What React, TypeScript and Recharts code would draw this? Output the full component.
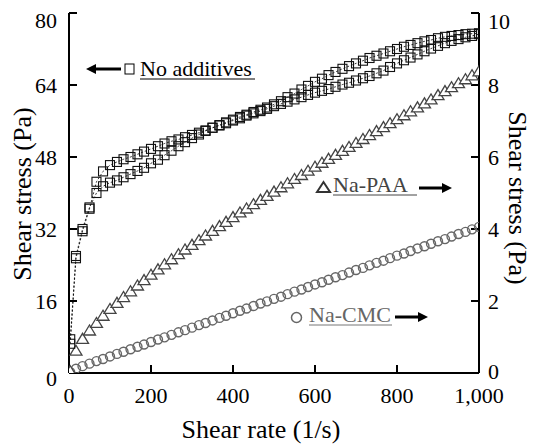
import React from "react";
import { LineChart, Line, XAxis, YAxis } from "recharts";

// shear rate steps (1/s), shared by all sweeps
const shearRate = [
  3, 17, 33, 50, 67, 83, 100, 117, 133, 150,
  167, 183, 200, 217, 233, 250, 267, 283, 300, 317,
  333, 350, 367, 383, 400, 417, 433, 450, 467, 483,
  500, 517, 533, 550, 567, 583, 600, 617, 633, 650,
  667, 683, 700, 717, 733, 750, 767, 783, 800, 817,
  833, 850, 867, 883, 900, 917, 933, 950, 967, 983,
  1000,
];

// no additives, left axis (Pa) - two sweeps of the loop
const noAdditivesSweepA = [
  6.5, 25.5, 31.5, 36.5, 42.5, 44.8, 46.2, 46.9, 47.5, 48.0,
  48.6, 49.2, 49.8, 50.4, 51.0, 51.5, 51.9, 52.4, 52.9, 53.4,
  53.9, 54.5, 55.0, 55.5, 56.1, 56.6, 57.2, 57.7, 58.2, 58.7,
  59.3, 59.8, 60.3, 60.8, 61.3, 61.8, 62.3, 62.7, 63.1, 63.6,
  64.1, 64.5, 65.0, 65.5, 66.0, 66.6, 67.2, 68.0, 68.8, 69.5,
  70.1, 70.8, 71.5, 72.1, 72.7, 73.3, 73.8, 74.2, 74.6, 74.9,
  75.3,
];
const noAdditivesSweepB = [
  7.5, 26.0, 32.0, 36.8, 40.0, 41.5, 42.3, 42.8, 43.5, 44.2,
  44.9, 45.6, 46.6, 47.4, 48.4, 49.4, 50.4, 51.3, 52.2, 53.0,
  53.8, 54.5, 55.1, 55.7, 56.3, 56.9, 57.4, 58.0, 58.5, 59.0,
  59.7, 60.4, 61.3, 62.1, 63.0, 63.8, 64.7, 65.4, 66.2, 66.9,
  67.6, 68.2, 68.8, 69.4, 70.0, 70.5, 71.0, 71.5, 72.0, 72.5,
  72.9, 73.3, 73.7, 74.0, 74.4, 74.7, 74.9, 75.1, 75.3, 75.4,
  75.5,
];

// Na-PAA and Na-CMC, right axis (Pa)
const naPaa = [
  0.05, 0.62, 0.95, 1.18, 1.39, 1.59, 1.78, 1.95, 2.11, 2.27,
  2.43, 2.58, 2.73, 2.88, 3.02, 3.16, 3.3, 3.43, 3.56, 3.69,
  3.82, 3.95, 4.08, 4.2, 4.33, 4.46, 4.57, 4.69, 4.81, 4.92,
  5.04, 5.16, 5.27, 5.39, 5.5, 5.62, 5.73, 5.84, 5.95, 6.06,
  6.17, 6.28, 6.39, 6.5, 6.61, 6.72, 6.83, 6.94, 7.05, 7.16,
  7.27, 7.38, 7.49, 7.6, 7.72, 7.83, 7.94, 8.05, 8.16, 8.27,
  8.38,
];
const naCmc = [
  0.02, 0.12, 0.19, 0.26, 0.33, 0.39, 0.46, 0.53, 0.59, 0.66,
  0.73, 0.79, 0.86, 0.93, 0.99, 1.06, 1.13, 1.19, 1.26, 1.33,
  1.39, 1.46, 1.53, 1.59, 1.66, 1.73, 1.79, 1.86, 1.93, 1.99,
  2.06, 2.12, 2.19, 2.26, 2.32, 2.39, 2.46, 2.52, 2.59, 2.66,
  2.72, 2.79, 2.86, 2.92, 2.99, 3.06, 3.12, 3.19, 3.26, 3.32,
  3.39, 3.46, 3.52, 3.59, 3.66, 3.72, 3.79, 3.86, 3.92, 3.99,
  4.06,
];

const xTicks = [0, 200, 400, 600, 800, 1000];
const leftTicks = [0, 16, 32, 48, 64, 80];
const rightTicks = [0, 2, 4, 6, 8, 10];

const toSeries = (ys: number[]) => shearRate.map((x, i) => ({ x, y: ys[i] }));

const FONT = '"Liberation Serif", "Times New Roman", serif';
const TICK_SIZE = 22;
const TITLE_SIZE = 26;
const axisStroke = { stroke: "#000", strokeWidth: 2 };

const Square = (p: any) => (
  <rect
    key={`sq-${p.index}`}
    x={p.cx - 4.5}
    y={p.cy - 4.5}
    width={9}
    height={9}
    fill="none"
    stroke="#111"
    strokeWidth={1.1}
  />
);

const Triangle = (p: any) => (
  <polygon
    key={`tr-${p.index}`}
    points={`${p.cx - 6},${p.cy + 4.5} ${p.cx},${p.cy - 5.5} ${p.cx + 6},${p.cy + 4.5}`}
    fill="#fff"
    stroke="#444"
    strokeWidth={1.3}
  />
);

const Ring = (p: any) => (
  <circle
    key={`ci-${p.index}`}
    cx={p.cx}
    cy={p.cy}
    r={4.5}
    fill="none"
    stroke="#666"
    strokeWidth={1.4}
  />
);

const BottomTick = (p: any) => (
  <text
    x={p.x}
    y={p.y}
    dy="0.71em"
    textAnchor="middle"
    fontSize={TICK_SIZE}
    fontFamily={FONT}
    fill="#000"
  >
    {p.payload.value.toLocaleString("en-US")}
  </text>
);

const LeftTick = (p: any) => {
  const v = p.payload.value;
  const shift = v === 80 ? 7 : v === 0 ? 5 : 0;
  return (
    <text
      x={p.x}
      y={p.y + shift}
      dy="0.35em"
      textAnchor="end"
      fontSize={TICK_SIZE}
      fontFamily={FONT}
      fill="#000"
    >
      {v}
    </text>
  );
};

const RightTick = (p: any) => {
  const v = p.payload.value;
  const shift = v === 10 ? 8 : v === 0 ? -2 : 0;
  return (
    <text
      x={p.x}
      y={p.y + shift}
      dy="0.35em"
      textAnchor="start"
      fontSize={TICK_SIZE}
      fontFamily={FONT}
      fill="#000"
    >
      {v}
    </text>
  );
};

// arrow with a solid head, pointing from (x1,y) toward (x2,y)
const Arrow = ({ x1, x2, y }: { x1: number; x2: number; y: number }) => {
  const dir = x2 > x1 ? 1 : -1;
  const base = x2 - dir * 10;
  return (
    <g>
      <line x1={x1} y1={y} x2={base} y2={y} stroke="#000" strokeWidth={3} />
      <polygon points={`${x2},${y} ${base},${y - 5} ${base},${y + 5}`} fill="#000" />
    </g>
  );
};

const Annotations = () => (
  <svg
    width={535}
    height={445}
    style={{ position: "absolute", left: 0, top: 0, pointerEvents: "none" }}
    fontFamily={FONT}
  >
    {/* axis titles */}
    <text x={22} y={194} transform="rotate(-90 22 194)" textAnchor="middle" dominantBaseline="central" fontSize={TITLE_SIZE}>
      Shear stress (Pa)
    </text>
    <text x={517} y={198} transform="rotate(90 517 198)" textAnchor="middle" dominantBaseline="central" fontSize={TITLE_SIZE}>
      Shear stress (Pa)
    </text>
    <text x={261} y={438} textAnchor="middle" fontSize={TITLE_SIZE}>
      Shear rate (1/s)
    </text>

    {/* series keys */}
    <Arrow x1={121} x2={86} y={69} />
    <rect x={125} y={64} width={9} height={10} fill="none" stroke="#000" strokeWidth={1} />
    <text x={140} y={76} fontSize={22} fill="#000">No additives</text>
    <line x1={140} x2={255} y1={79} y2={79} stroke="#000" strokeWidth={1} />

    <polygon points="317,192 323.5,182 330,192" fill="none" stroke="#333" strokeWidth={2} />
    <text x={333} y={192} fontSize={22} fill="#444">Na-PAA</text>
    <line x1={333} x2={417} y1={195} y2={195} stroke="#444" strokeWidth={1} />
    <Arrow x1={419} x2={452} y={188} />

    <circle cx={296.5} cy={317.5} r={5} fill="none" stroke="#666" strokeWidth={1.5} />
    <text x={309} y={322} fontSize={22} fill="#666">Na-CMC</text>
    <line x1={309} x2={392} y1={325} y2={325} stroke="#777" strokeWidth={1} />
    <Arrow x1={395} x2={428} y={317} />
  </svg>
);

export default function App() {
  return (
    <div
      style={{
        position: "absolute",
        left: 0,
        top: 0,
        width: 535,
        height: 445,
        background: "#fff",
        fontFamily: FONT,
      }}
    >
      <LineChart width={535} height={445} margin={{ top: 13, right: 0, bottom: 0, left: 0 }}>
        <XAxis
          xAxisId="bottom"
          type="number"
          dataKey="x"
          domain={[0, 1000]}
          ticks={xTicks}
          height={72}
          axisLine={axisStroke}
          tickLine={axisStroke}
          tickSize={-8}
          tickMargin={22}
          tick={BottomTick}
          allowDataOverflow
        />
        <XAxis
          xAxisId="top"
          orientation="top"
          type="number"
          dataKey="x"
          domain={[0, 1000]}
          ticks={xTicks}
          height={0}
          axisLine={axisStroke}
          tickLine={axisStroke}
          tickSize={-8}
          tick={false}
          allowDataOverflow
        />
        <YAxis
          yAxisId="left"
          type="number"
          domain={[0, 80]}
          ticks={leftTicks}
          width={69}
          axisLine={axisStroke}
          tickLine={axisStroke}
          tickSize={-8}
          tickMargin={20}
          tick={LeftTick}
          allowDataOverflow
        />
        <YAxis
          yAxisId="right"
          orientation="right"
          type="number"
          domain={[0, 10]}
          ticks={rightTicks}
          width={56}
          axisLine={axisStroke}
          tickLine={axisStroke}
          tickSize={-8}
          tickMargin={17}
          tick={RightTick}
          allowDataOverflow
        />

        <Line
          xAxisId="bottom"
          yAxisId="right"
          data={toSeries(naCmc)}
          dataKey="y"
          stroke="none"
          dot={Ring}
          activeDot={false}
          isAnimationActive={false}
        />
        <Line
          xAxisId="bottom"
          yAxisId="right"
          data={toSeries(naPaa)}
          dataKey="y"
          stroke="none"
          dot={Triangle}
          activeDot={false}
          isAnimationActive={false}
        />
        <Line
          xAxisId="bottom"
          yAxisId="left"
          data={toSeries(noAdditivesSweepA)}
          dataKey="y"
          stroke="#000"
          strokeWidth={0.8}
          strokeDasharray="2 2"
          dot={Square}
          activeDot={false}
          isAnimationActive={false}
        />
        <Line
          xAxisId="bottom"
          yAxisId="left"
          data={toSeries(noAdditivesSweepB)}
          dataKey="y"
          stroke="#000"
          strokeWidth={0.8}
          strokeDasharray="2 2"
          dot={Square}
          activeDot={false}
          isAnimationActive={false}
        />
      </LineChart>
      <Annotations />
    </div>
  );
}
